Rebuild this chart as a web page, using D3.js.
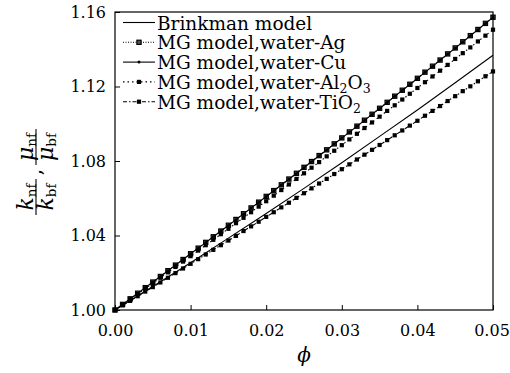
<!DOCTYPE html>
<html>
<head>
<meta charset="utf-8">
<script src="https://cdn.jsdelivr.net/npm/d3@7"></script>
<style>
  body { margin: 0; background: #fff; }
  svg { display: block; font-family: "DejaVu Serif", serif; }
</style>
</head>
<body>
<div id="chart"></div>
<script>
// volume fraction, one point every 0.001
const phi = d3.range(0, 51).map(i => i / 1000);

// Brinkman curve read at every 0.005
const phiBrinkman = [0, 0.005, 0.010, 0.015, 0.020, 0.025, 0.030, 0.035, 0.040, 0.045, 0.050];
const brinkman = [1.0000, 1.0126, 1.0254, 1.0386, 1.0518, 1.0653, 1.0791, 1.0932, 1.1074, 1.1220, 1.1368];

const agValues = [
  1.0000, 1.0030, 1.0060, 1.0090, 1.0120, 1.0150, 1.0180, 1.0211, 1.0241, 1.0271,
  1.0302, 1.0332, 1.0363, 1.0393, 1.0424, 1.0455, 1.0486, 1.0517, 1.0548, 1.0579,
  1.0610, 1.0641, 1.0672, 1.0703, 1.0734, 1.0766, 1.0797, 1.0829, 1.0860, 1.0892,
  1.0924, 1.0956, 1.0987, 1.1019, 1.1051, 1.1083, 1.1115, 1.1148, 1.1180, 1.1212,
  1.1244, 1.1277, 1.1309, 1.1342, 1.1375, 1.1407, 1.1440, 1.1473, 1.1506, 1.1539,
  1.1572
];
const cuValues = [
  1.0000, 1.0030, 1.0060, 1.0090, 1.0120, 1.0150, 1.0180, 1.0211, 1.0241, 1.0271,
  1.0302, 1.0332, 1.0362, 1.0393, 1.0424, 1.0454, 1.0485, 1.0516, 1.0547, 1.0578,
  1.0609, 1.0640, 1.0671, 1.0702, 1.0733, 1.0765, 1.0796, 1.0828, 1.0859, 1.0891,
  1.0923, 1.0955, 1.0986, 1.1018, 1.1050, 1.1082, 1.1114, 1.1147, 1.1179, 1.1211,
  1.1243, 1.1276, 1.1308, 1.1341, 1.1374, 1.1406, 1.1439, 1.1472, 1.1505, 1.1538,
  1.1571
];
const al2o3Values = [
  1.0000, 1.0029, 1.0057, 1.0086, 1.0115, 1.0144, 1.0173, 1.0202, 1.0231, 1.0260,
  1.0289, 1.0319, 1.0348, 1.0377, 1.0407, 1.0436, 1.0466, 1.0495, 1.0525, 1.0555,
  1.0584, 1.0614, 1.0644, 1.0674, 1.0704, 1.0734, 1.0764, 1.0794, 1.0825, 1.0855,
  1.0885, 1.0916, 1.0946, 1.0977, 1.1007, 1.1038, 1.1069, 1.1099, 1.1130, 1.1161,
  1.1192, 1.1223, 1.1254, 1.1285, 1.1316, 1.1348, 1.1379, 1.1410, 1.1442, 1.1473,
  1.1505
];
const tio2Values = [
  1.0000, 1.0025, 1.0049, 1.0074, 1.0099, 1.0123, 1.0148, 1.0173, 1.0198, 1.0223,
  1.0248, 1.0273, 1.0298, 1.0323, 1.0348, 1.0373, 1.0398, 1.0424, 1.0449, 1.0474,
  1.0500, 1.0525, 1.0551, 1.0576, 1.0602, 1.0627, 1.0653, 1.0679, 1.0704, 1.0730,
  1.0756, 1.0782, 1.0808, 1.0834, 1.0860, 1.0886, 1.0912, 1.0938, 1.0964, 1.0990,
  1.1016, 1.1043, 1.1069, 1.1095, 1.1122, 1.1148, 1.1175, 1.1201, 1.1228, 1.1255,
  1.1281
];

const xTicks = [0, 0.01, 0.02, 0.03, 0.04, 0.05];
const yTicks = [1.00, 1.04, 1.08, 1.12, 1.16];

const legendNames = [
  "Brinkman model",
  "MG model,water-Ag",
  "MG model,water-Cu",
  "MG model,water-Al2O3",
  "MG model,water-TiO2"
];

const width = 510, height = 373;
const plotLeft = 115, plotRight = 493, plotTop = 12, plotBottom = 310;

const svg = d3.select("#chart").append("svg")
  .attr("width", width)
  .attr("height", height);

const x = d3.scaleLinear().domain([0, 0.05]).range([plotLeft, plotRight]);
const y = d3.scaleLinear().domain([1.00, 1.16]).range([plotBottom, plotTop]);

// series styles: dash pattern and marker kind
const series = [
  { xs: phiBrinkman, ys: brinkman, dash: null, marker: null },
  { xs: phi, ys: agValues, dash: "1,1.5", marker: "hollow" },
  { xs: phi, ys: cuValues, dash: null, marker: "dot" },
  { xs: phi, ys: al2o3Values, dash: "1.5,3", marker: "square" },
  { xs: phi, ys: tio2Values, dash: "4,2,1.5,2", marker: "square" }
];

const line = d3.line().x(d => x(d[0])).y(d => y(d[1]));

const plot = svg.append("g");

function drawMarker(g, kind, cx, cy) {
  if (kind === "hollow") {
    g.append("rect").attr("x", cx - 2.1).attr("y", cy - 2.1)
      .attr("width", 4.2).attr("height", 4.2)
      .attr("fill", "#555").attr("stroke", "#000").attr("stroke-width", 1.2);
  } else if (kind === "square") {
    g.append("rect").attr("x", cx - 2.1).attr("y", cy - 2.1)
      .attr("width", 4.2).attr("height", 4.2).attr("fill", "#000");
  } else if (kind === "dot") {
    g.append("circle").attr("cx", cx).attr("cy", cy).attr("r", 1.5).attr("fill", "#000");
  }
}

series.forEach(s => {
  const pts = s.xs.map((v, i) => [v, s.ys[i]]);
  plot.append("path")
    .attr("d", line(pts))
    .attr("fill", "none")
    .attr("stroke", "#000")
    .attr("stroke-width", 1.1)
    .attr("stroke-dasharray", s.dash);
  if (s.marker) {
    const mg = plot.append("g");
    pts.forEach(p => drawMarker(mg, s.marker, x(p[0]), y(p[1])));
  }
});

// axes with inward ticks
const xAxis = d3.axisBottom(x).tickValues(xTicks).tickFormat(d3.format(".2f"))
  .tickSizeInner(-5).tickSizeOuter(0).tickPadding(15);
const yAxis = d3.axisLeft(y).tickValues(yTicks).tickFormat(d3.format(".2f"))
  .tickSizeInner(-5).tickSizeOuter(0).tickPadding(9);

const gx = svg.append("g").attr("transform", `translate(0,${plotBottom})`).call(xAxis);
const gy = svg.append("g").attr("transform", `translate(${plotLeft},0)`).call(yAxis);
[gx, gy].forEach(g => {
  g.select(".domain").remove();
  g.selectAll("text").attr("font-family", "DejaVu Serif").attr("font-size", 16).attr("fill", "#000");
  g.selectAll("line").attr("stroke", "#000").attr("stroke-width", 1);
});
// last x label sits against the right edge of the picture
gx.selectAll(".tick text").filter(d => d === 0.05).attr("dx", -1.5);

// frame
svg.append("rect")
  .attr("x", plotLeft).attr("y", plotTop)
  .attr("width", plotRight - plotLeft).attr("height", plotBottom - plotTop)
  .attr("fill", "none").attr("stroke", "#000").attr("stroke-width", 1.2);

// legend
const legend = svg.append("g");
legendNames.forEach((name, i) => {
  const s = series[i];
  const ly = 22.5 + i * 19.8;
  legend.append("line")
    .attr("x1", 123).attr("x2", 155).attr("y1", ly).attr("y2", ly)
    .attr("stroke", "#000").attr("stroke-width", 1.1)
    .attr("stroke-dasharray", s.dash);
  if (s.marker) drawMarker(legend, s.marker, 139, ly);
  const t = legend.append("text")
    .attr("x", 157).attr("y", ly + 7)
    .attr("font-size", 18.5);
  // digits after letters become subscripts (Al2O3, TiO2)
  const parts = name.split(/(\d)/).filter(p => p.length);
  let sub = false;
  parts.forEach(p => {
    const isDigit = /^\d$/.test(p);
    const ts = t.append("tspan").text(p);
    if (isDigit) {
      ts.attr("font-size", 12.5);
      if (!sub) ts.attr("dy", 4);
      sub = true;
    } else if (sub) {
      ts.attr("dy", -4);
      sub = false;
    }
  });
});

// x axis title
svg.append("text")
  .attr("x", (plotLeft + plotRight) / 2).attr("y", 362)
  .attr("text-anchor", "middle")
  .attr("font-size", 20).attr("font-style", "italic")
  .text("\u03D5");

// y axis title: k_nf/k_bf , mu_nf/mu_bf (rotated)
function fraction(g, cx, sym) {
  const num = g.append("text").attr("x", cx).attr("y", -3.5).attr("text-anchor", "middle");
  num.append("tspan").attr("font-style", "italic").attr("font-size", 22).text(sym);
  num.append("tspan").attr("font-size", 13.5).attr("dy", 3).text("nf");
  const den = g.append("text").attr("x", cx).attr("y", 17).attr("text-anchor", "middle");
  den.append("tspan").attr("font-style", "italic").attr("font-size", 22).text(sym);
  den.append("tspan").attr("font-size", 13.5).attr("dy", 3).text("bf");
  g.append("line").attr("x1", cx - 18).attr("x2", cx + 18).attr("y1", 0).attr("y2", 0)
    .attr("stroke", "#000").attr("stroke-width", 1.1);
}
const ylab = svg.append("g").attr("transform", "translate(36,172) rotate(-90)");
fraction(ylab, -25, "k");
ylab.append("text").attr("x", 0).attr("y", 5).attr("text-anchor", "middle")
  .attr("font-size", 20).text(",");
fraction(ylab, 25, "\u03BC");
</script>
</body>
</html>
